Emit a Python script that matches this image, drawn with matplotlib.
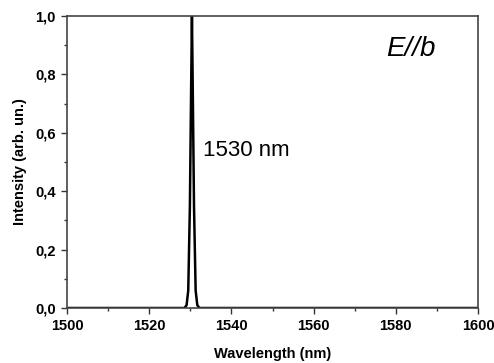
import matplotlib
matplotlib.use("Agg")
import matplotlib.pyplot as plt
from matplotlib.ticker import MultipleLocator, FuncFormatter

plt.rcParams['font.family'] = ['Liberation Sans', 'DejaVu Sans']

# spectrum
wavelength = [1500, 1528.6, 1529.1, 1529.5, 1529.9, 1530.2, 1530.4, 1530.6, 1530.9, 1531.3, 1531.7, 1532.2, 1600]
intensity = [0.0, 0.0, 0.01, 0.06, 0.35, 0.75, 1.0, 0.75, 0.35, 0.06, 0.01, 0.0, 0.0]

fig = plt.figure(figsize=(4.94, 3.63), dpi=100)
ax = fig.add_axes([67/494, 1 - 308/363, 411/494, 292/363])
ax.plot(wavelength, intensity, color='black', lw=1.8)

ax.set_xlim(1500, 1600)
ax.set_ylim(0, 1.0)
ax.xaxis.set_major_locator(MultipleLocator(20))
ax.xaxis.set_minor_locator(MultipleLocator(10))
ax.yaxis.set_major_locator(MultipleLocator(0.2))
ax.yaxis.set_minor_locator(MultipleLocator(0.1))
ax.yaxis.set_major_formatter(FuncFormatter(lambda v, p: f"{v:.1f}".replace('.', ',')))
ax.tick_params(which='both', direction='out', top=False, right=False, color='#333333')
ax.tick_params(which='major', length=4, width=1, labelsize=10.5, pad=4)
ax.tick_params(which='minor', length=2.5, width=1)
for lab in ax.get_xticklabels() + ax.get_yticklabels():
    lab.set_fontweight('bold')
for s in ax.spines.values():
    s.set_color('#444444')
    s.set_linewidth(1.2)

ax.set_xlabel("Wavelength (nm)", fontsize=10.5, fontweight='bold', labelpad=10)
ax.set_ylabel("Intensity (arb. un.)", fontsize=10.5, fontweight='bold', labelpad=6)
ax.text(1533.0, 0.54, "1530 nm", fontsize=16, va='center', ha='left')
ax.text(1577.6, 0.887, "E//b", fontsize=20, style='italic', va='center', ha='left')

fig.savefig("out.png", dpi=100)
